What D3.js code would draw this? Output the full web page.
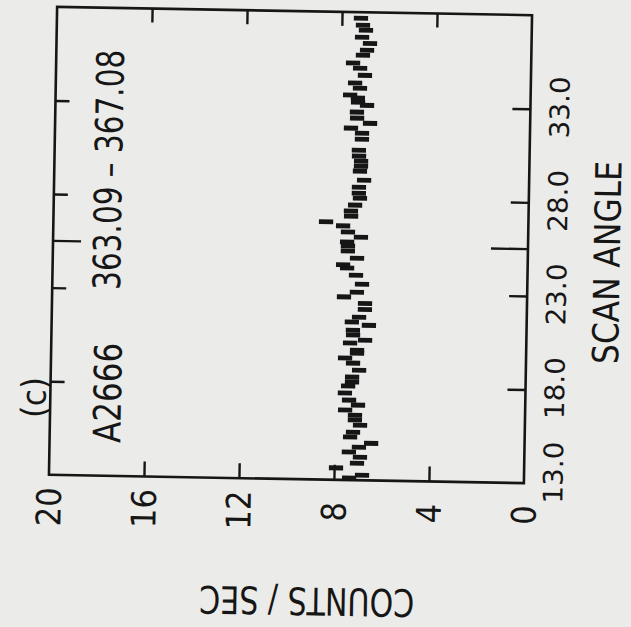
<!DOCTYPE html>
<html>
<head>
<meta charset="utf-8">
<script src="https://cdn.jsdelivr.net/npm/d3@7"></script>
<style>
  body { margin: 0; background: #ebebe9; }
  text {
    font-family: "Liberation Sans Narrow", "DejaVu Sans Condensed", "DejaVu Sans", sans-serif;
    font-stretch: condensed;
    fill: #161616;
  }
</style>
</head>
<body>
<div id="chart"></div>
<script>
// scan angle (deg) of each bin from top to bottom
var scanAngles = [
  37.68, 37.31, 37.04, 36.66, 36.34, 35.97, 35.70, 35.28, 35.01, 34.63,
  34.21, 33.94, 33.57, 33.41, 33.19, 33.03, 32.66, 32.34, 32.07, 31.80,
  31.54, 31.22, 30.63, 30.31, 30.04, 29.77, 29.51, 29.03, 28.65, 28.33,
  28.06, 27.69, 27.37, 27.10, 26.78, 26.57, 26.25, 25.98, 25.71, 25.50,
  25.23, 24.86, 24.49, 24.33, 23.95, 23.47, 23.04, 22.78, 22.45, 22.13,
  21.71, 21.44, 21.28, 21.01, 20.75, 20.48, 20.32, 19.94, 19.78, 19.52,
  19.25, 18.88, 18.50, 18.24, 18.02, 17.65, 17.27, 17.01, 16.74, 16.47,
  16.21, 15.94, 15.56, 15.30, 14.98, 14.76, 14.50, 14.23, 13.91, 13.64,
  13.27, 13.11
];
// counts / sec in each bin
var countRates = [
  7.20, 7.11, 6.98, 7.14, 6.80, 6.92, 7.09, 7.50, 7.20, 6.99,
  7.40, 7.19, 7.60, 7.27, 7.26, 6.88, 7.30, 7.29, 6.74, 7.54,
  7.07, 7.07, 7.19, 7.18, 7.09, 7.09, 7.13, 6.95, 7.16, 7.16,
  7.11, 7.31, 7.48, 7.47, 8.52, 7.80, 7.59, 7.04, 7.62, 7.58,
  7.58, 7.19, 7.77, 7.60, 7.22, 6.96, 7.17, 7.71, 6.82, 6.82,
  7.06, 7.36, 6.64, 7.31, 7.30, 6.79, 7.42, 7.12, 7.12, 7.62,
  7.28, 7.02, 7.31, 7.31, 7.47, 7.60, 7.42, 7.04, 7.58, 7.16,
  7.16, 6.94, 7.23, 7.35, 6.46, 6.97, 7.39, 6.92, 7.04, 7.92,
  6.82, 7.36
];
var countErr = 0.3;

var countTicks = [20, 16, 12, 8, 4, 0];
var countTickLabels = ["20", "16", "12", "8", "4", "0"];
var angleTicks = [13, 18, 23, 28, 33];
var angleTickLabels = ["13.0", "18.0", "23.0", "28.0", "33.0"];
var sourceAngle = 25.5;

var svgWidth = 631;
var svgHeight = 627;

var plot = { left: 53, right: 528, top: 11, bottom: 479 };

var svg = d3.select("#chart")
  .append("svg")
  .attr("width", svgWidth)
  .attr("height", svgHeight);

// the scanned figure sits a little askew on the page
var chartGroup = svg.append("g")
  .attr("transform", "rotate(1, 290, 245)");

// plot is turned on its side: counts run right-to-left, angle runs upward
var xCounts = d3.scaleLinear().domain([20, 0]).range([plot.left, plot.right]);
var yAngle = d3.scaleLinear().domain([13, 38]).range([plot.bottom, plot.top]);

var ink = "#161616";

// frame
chartGroup.append("rect")
  .attr("x", plot.left)
  .attr("y", plot.top)
  .attr("width", plot.right - plot.left)
  .attr("height", plot.bottom - plot.top)
  .attr("fill", "none")
  .attr("stroke", ink)
  .attr("stroke-width", 2.6);

function styleAxis(g) {
  g.select(".domain").remove();
  g.selectAll("line").attr("stroke", ink).attr("stroke-width", 2.4);
}

// inward ticks on all four sides
chartGroup.append("g")
  .attr("transform", `translate(0, ${plot.bottom})`)
  .call(d3.axisTop(xCounts).tickValues([16, 12, 8, 4]).tickSize(15).tickFormat(""))
  .call(styleAxis);

chartGroup.append("g")
  .attr("transform", `translate(0, ${plot.top})`)
  .call(d3.axisBottom(xCounts).tickValues([16, 12, 8, 4]).tickSize(14).tickFormat(""))
  .call(styleAxis);

chartGroup.append("g")
  .attr("transform", `translate(${plot.left}, 0)`)
  .call(d3.axisRight(yAngle).tickValues(angleTicks.slice(1)).tickSize(14).tickFormat(""))
  .call(styleAxis);

chartGroup.append("g")
  .attr("transform", `translate(${plot.right}, 0)`)
  .call(d3.axisLeft(yAngle).tickValues(angleTicks.slice(1)).tickSize(18).tickFormat(""))
  .call(styleAxis);

// longer marks at the source position
chartGroup.append("line")
  .attr("x1", plot.left).attr("x2", plot.left + 28)
  .attr("y1", yAngle(sourceAngle)).attr("y2", yAngle(sourceAngle))
  .attr("stroke", ink).attr("stroke-width", 2.4);
chartGroup.append("line")
  .attr("x1", plot.right).attr("x2", plot.right - 37)
  .attr("y1", yAngle(sourceAngle)).attr("y2", yAngle(sourceAngle))
  .attr("stroke", ink).attr("stroke-width", 2.4);

// data bins
chartGroup.append("g")
  .selectAll("rect")
  .data(scanAngles)
  .join("rect")
  .attr("x", (d, i) => xCounts(countRates[i] + countErr))
  .attr("width", (d, i) => xCounts(countRates[i] - countErr) - xCounts(countRates[i] + countErr))
  .attr("y", d => yAngle(d) - 2.4)
  .attr("height", 4.8)
  .attr("fill", ink);

// counts tick labels
chartGroup.append("g")
  .selectAll("text")
  .data(countTicks)
  .join("text")
  .attr("transform", d => `translate(${xCounts(d)}, 511) rotate(-90)`)
  .attr("text-anchor", "middle")
  .attr("dy", "0.36em")
  .attr("font-size", 34)
  .text((d, i) => countTickLabels[i]);

// scan angle tick labels
chartGroup.append("g")
  .selectAll("text")
  .data(angleTicks)
  .join("text")
  .attr("transform", d => `translate(557, ${yAngle(d) - (d === 13 ? 11 : 2)}) rotate(-90)`)
  .attr("text-anchor", "middle")
  .attr("dy", "0.36em")
  .attr("font-size", 27)
  .attr("textLength", 62)
  .attr("lengthAdjust", "spacingAndGlyphs")
  .text((d, i) => angleTickLabels[i]);

// axis titles
chartGroup.append("text")
  .attr("transform", "translate(607, 257) rotate(-90)")
  .attr("text-anchor", "middle")
  .attr("dy", "0.36em")
  .attr("font-size", 36)
  .attr("textLength", 203)
  .attr("lengthAdjust", "spacingAndGlyphs")
  .text("SCAN ANGLE");

chartGroup.append("text")
  .attr("transform", "translate(313, 601) rotate(180)")
  .attr("text-anchor", "middle")
  .attr("dy", "0.36em")
  .attr("font-size", 38)
  .attr("textLength", 215)
  .attr("lengthAdjust", "spacingAndGlyphs")
  .text("COUNTS / SEC");

// panel annotations
chartGroup.append("text")
  .attr("transform", "translate(107, 173) rotate(-90)")
  .attr("text-anchor", "middle")
  .attr("dy", "0.36em")
  .attr("font-size", 38)
  .attr("textLength", 240)
  .attr("lengthAdjust", "spacingAndGlyphs")
  .text("363.09 – 367.08");

chartGroup.append("text")
  .attr("transform", "translate(110, 396) rotate(-90)")
  .attr("text-anchor", "middle")
  .attr("dy", "0.36em")
  .attr("font-size", 38)
  .attr("textLength", 100)
  .attr("lengthAdjust", "spacingAndGlyphs")
  .text("A2666");

chartGroup.append("text")
  .attr("transform", "translate(36, 402) rotate(-90)")
  .attr("text-anchor", "middle")
  .attr("dy", "0.36em")
  .attr("font-size", 34)
  .text("(c)");
</script>
</body>
</html>
